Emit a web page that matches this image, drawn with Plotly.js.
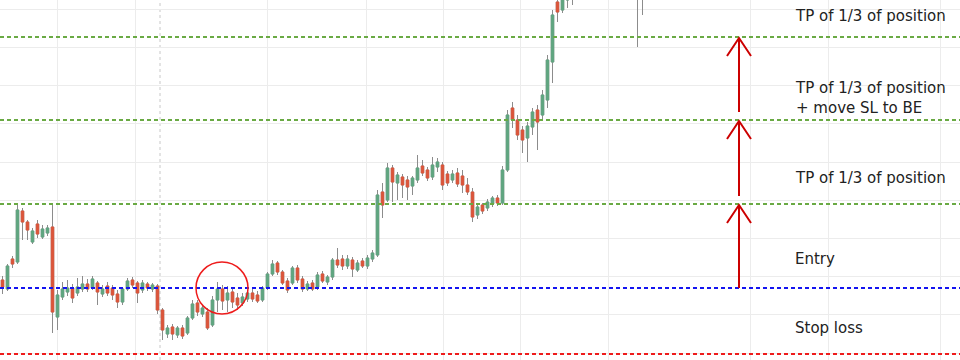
<!DOCTYPE html>
<html>
<head>
<meta charset="utf-8">
<script src="https://cdn.plot.ly/plotly-3.0.1.min.js"></script>
<style>html,body{margin:0;padding:0;background:#fff;}#chart{width:960px;height:360px;}</style>
</head>
<body>
<div id="chart"></div>
<script>
// candle index (time) and OHLC prices
const openP = [80,71,101,98,149,138,118,136,123,127,133,43,63,68,72,67,71,76,72,77,66,74,72,66,58,71,80,77,70,76,71,74,50,26,33,25,32,27,42,57,46,48,35,60,71,60,68,62,57,61,67,65,60,72,86,97,88,79,77,92,81,71,77,73,86,78,83,100,101,94,100,90,99,94,101,105,168,160,192,177,183,180,174,180,194,190,183,193,195,186,180,187,184,175,168,145,155,152,156,162,157,190,252,240,230,222,233,250,245,260,298,358,350,360,362,372,385,380,392,400,395,405,398,390,396,388,380,384,376];
const highP = [84,96,104,155,152,140,132,140,135,135,155,70,78,80,76,82,84,81,84,79,75,78,75,70,73,82,83,79,80,78,77,76,52,35,36,34,35,44,60,60,55,52,64,78,75,74,72,67,67,70,71,69,74,88,100,99,90,82,94,95,84,79,80,88,89,85,102,112,105,105,103,100,102,105,110,170,177,197,195,188,186,184,184,205,200,193,203,202,198,189,190,192,190,182,172,156,157,161,164,165,194,250,258,245,234,238,252,255,270,305,350,368,375,375,380,390,392,398,405,408,412,410,402,400,399,392,389,390,385];
const lowP = [66,69,92,96,120,120,116,122,121,124,27,30,60,64,57,64,68,68,70,55,63,64,60,52,55,69,72,57,67,69,68,46,20,22,20,22,21,25,40,44,43,30,33,48,50,48,52,50,54,58,58,57,58,70,84,85,75,67,75,77,68,69,69,70,77,75,80,92,90,91,83,88,92,91,98,103,142,158,158,160,162,160,165,177,184,179,180,188,170,174,177,173,167,165,138,141,146,149,153,154,155,188,232,220,207,198,225,210,240,252,277,338,347,352,355,366,372,375,386,388,390,392,384,382,380,374,371,313,345];
const closeP = [73,94,96,150,138,130,129,126,131,132,48,65,71,72,62,73,76,71,81,68,71,67,65,58,71,79,75,67,77,72,75,50,30,32,26,32,24,42,56,48,52,32,60,71,59,67,58,55,63,67,61,59,72,86,96,88,77,70,92,80,71,76,71,85,79,83,100,95,94,101,91,97,94,102,107,165,155,192,178,185,175,173,182,192,187,182,195,198,175,177,186,176,175,168,143,153,149,158,162,157,190,245,240,225,220,234,248,238,265,300,345,348,365,368,372,385,380,392,400,395,405,398,390,396,388,380,384,376,380];
const candleIdx = openP.map((_, i) => i);

// trade levels
const levelNames = ["Stop loss", "Entry", "TP1", "TP2", "TP3"];
const levelPrices = [6, 72, 156, 240, 323];
const levelColors = ["#ee1c1c", "#1414f0", "#6aaa44", "#6aaa44", "#6aaa44"];

// right-hand labels
const labelTexts = ["Stop loss", "Entry", "TP of 1/3 of position", "TP of 1/3 of position<br>+ move SL to BE", "TP of 1/3 of position"];
const labelPrices = [32, 101, 182, 262, 344];

// vertical grid positions (candle index)
const gridX = [10.9, 26.5, 52.9, 72.7, 88.1, 103.5, 121.1, 149.5, 165.1, 187.5];
const separatorX = 31.5;

// arrows between levels, circle marker
const arrowX = 147.3;
const circleCenter = {x: 43.9, y: 72};

const bodyHigh = openP.map((o, i) => Math.max(o, closeP[i]));
const bodyLow = openP.map((o, i) => Math.min(o, closeP[i]));

const GREEN = "#5fa680", RED = "#dc553a", WICK = "#8c8c8c";

const wickTrace = {
  type: "candlestick", x: candleIdx, open: openP, high: highP, low: lowP, close: closeP,
  increasing: {line: {color: WICK, width: 1}, fillcolor: WICK},
  decreasing: {line: {color: WICK, width: 1}, fillcolor: WICK},
  hoverinfo: "skip", showlegend: false
};
const bodyTrace = {
  type: "candlestick", x: candleIdx, open: openP, high: bodyHigh, low: bodyLow, close: closeP,
  increasing: {line: {color: GREEN, width: 1}, fillcolor: GREEN},
  decreasing: {line: {color: RED, width: 1}, fillcolor: RED},
  hoverinfo: "skip", showlegend: false
};

const shapes = [];
shapes.push({type: "line", xref: "x", yref: "paper", x0: separatorX, x1: separatorX, y0: 0, y1: 1,
  line: {color: "#c8c8c8", width: 1, dash: "dot"}, layer: "below"});
levelPrices.forEach((p, i) => {
  shapes.push({type: "line", xref: "paper", yref: "y", x0: 0, x1: 1, y0: p, y1: p,
    line: {color: levelColors[i], width: 2, dash: "4px,3px"}});
});
// arrows: Entry->TP1, TP1->TP2, TP2->TP3
const ARROW = "#cc0000";
const headW = 2.4, headH = 19, tailGap = 8;
for (let k = 1; k < levelPrices.length - 1; k++) {
  const from = levelPrices[k] + (k === 1 ? 0 : tailGap);
  const to = levelPrices[k + 1];
  shapes.push({type: "line", xref: "x", yref: "y", x0: arrowX, x1: arrowX, y0: from, y1: to - 1,
    line: {color: ARROW, width: 2}});
  shapes.push({type: "path", xref: "x", yref: "y",
    path: `M ${arrowX - headW} ${to - headH} L ${arrowX} ${to - 1} L ${arrowX + headW} ${to - headH}`,
    line: {color: ARROW, width: 2}});
}
shapes.push({type: "circle", xref: "x", yref: "y",
  x0: circleCenter.x - 5.2, x1: circleCenter.x + 5.2, y0: circleCenter.y - 26, y1: circleCenter.y + 26,
  line: {color: "#ee1c1c", width: 1.5}});

const annotations = labelTexts.map((t, i) => ({
  xref: "paper", yref: "y", x: 793 / 960, y: labelPrices[i], xanchor: "left", yanchor: "middle",
  text: t, showarrow: false, align: "left",
  font: {family: "DejaVu Sans, Verdana, sans-serif", size: 15, color: "#222"}
}));

const layout = {
  width: 960, height: 360,
  margin: {l: 0, r: 0, t: 0, b: 0, pad: 0},
  paper_bgcolor: "#fff", plot_bgcolor: "#fff",
  showlegend: false,
  xaxis: {range: [-0.5, 191.5], tickvals: gridX, showticklabels: false, ticks: "",
    showgrid: true, gridcolor: "#ececec", gridwidth: 1, zeroline: false,
    rangeslider: {visible: false}, fixedrange: true},
  yaxis: {range: [0, 360], tick0: 7, dtick: 38.2, showticklabels: false, ticks: "",
    showgrid: true, gridcolor: "#ececec", gridwidth: 1, zeroline: false, fixedrange: true},
  shapes: shapes, annotations: annotations
};

Plotly.newPlot("chart", [wickTrace, bodyTrace], layout, {displayModeBar: false, staticPlot: true});
</script>
</body>
</html>
